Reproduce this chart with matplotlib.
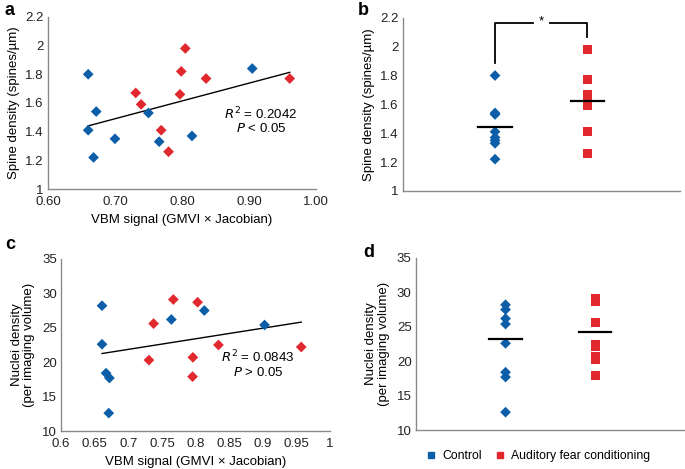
import matplotlib
matplotlib.use("Agg")
import matplotlib.pyplot as plt
import numpy as np

plt.rcParams['font.family'] = ['Liberation Sans', 'DejaVu Sans']

BLUE = '#0d5ea8'
RED = '#e0282e'
FS = 9.5

# panel a: VBM signal vs spine density
a_ctrl_x = [0.66, 0.66, 0.672, 0.668, 0.70, 0.75, 0.766, 0.815, 0.905]
a_ctrl_y = [1.80, 1.41, 1.54, 1.22, 1.35, 1.53, 1.33, 1.37, 1.84]
a_afc_x = [0.805, 0.799, 0.836, 0.961, 0.731, 0.739, 0.797, 0.769, 0.780]
a_afc_y = [1.98, 1.82, 1.77, 1.77, 1.67, 1.59, 1.66, 1.41, 1.26]

# panel b: spine density by group
b_ctrl = [1.80, 1.54, 1.53, 1.41, 1.37, 1.35, 1.33, 1.22]
b_afc = [1.98, 1.77, 1.67, 1.64, 1.59, 1.41, 1.26]
b_means = [1.445, 1.624]

# panel c: VBM signal vs nuclei density
c_ctrl_x = [0.661, 0.661, 0.667, 0.672, 0.671, 0.764, 0.813, 0.9025]
c_ctrl_y = [28.2, 22.6, 18.4, 17.7, 12.6, 26.2, 27.5, 25.4]
c_afc_x = [0.767, 0.803, 0.7376, 0.7307, 0.796, 0.7955, 0.834, 0.957]
c_afc_y = [29.1, 28.7, 25.6, 20.3, 20.7, 17.9, 22.5, 22.2]

# panel d: nuclei density by group
d_means = [23.3, 24.2]

fig = plt.figure(figsize=(6.85, 4.69), dpi=100)


def style(ax):
    for s in ['top', 'right']:
        ax.spines[s].set_visible(False)
    for s in ['left', 'bottom']:
        ax.spines[s].set_color('#8a8a8a')
        ax.spines[s].set_linewidth(1.0)
    ax.tick_params(length=0, labelsize=FS, colors='#222222', pad=3)
    ax.tick_params(axis='x', pad=5)


def scatter_panel(ax, cx, cy, fx, fy):
    ax.scatter(cx, cy, marker='D', s=30, color=BLUE, edgecolors='none', zorder=3)
    ax.scatter(fx, fy, marker='D', s=30, color=RED, edgecolors='none', zorder=3)
    xs = np.array(cx + fx)
    ys = np.array(cy + fy)
    k, b = np.polyfit(xs, ys, 1)
    xl = np.array([xs.min(), xs.max()])
    ax.plot(xl, k * xl + b, color='black', lw=1.0, zorder=2)


# a
ax = fig.add_axes([0.0701, 0.597, 0.391, 0.367])
style(ax)
scatter_panel(ax, a_ctrl_x, a_ctrl_y, a_afc_x, a_afc_y)
ax.set_xlim(0.6, 1.0)
ax.set_ylim(1, 2.2)
ax.set_xticks([0.6, 0.7, 0.8, 0.9, 1.0])
ax.set_xticklabels(['0.60', '0.70', '0.80', '0.90', '1.00'])
ax.set_yticks([1, 1.2, 1.4, 1.6, 1.8, 2, 2.2])
ax.set_yticklabels(['1', '1.2', '1.4', '1.6', '1.8', '2', '2.2'])
ax.set_xlabel('VBM signal (GMVI × Jacobian)', fontsize=FS, labelpad=4)
ax.set_ylabel('Spine density (spines/µm)', fontsize=FS, labelpad=4)
ax.text(0.918, 1.525, '$R^2$ = 0.2042', ha='center', va='center', fontsize=FS)
ax.text(0.918, 1.425, '$P$ < 0.05', ha='center', va='center', fontsize=FS)
fig.text(0.006, 0.977, 'a', fontsize=13, fontweight='bold', va='center')

# b
ax = fig.add_axes([0.588, 0.593, 0.404, 0.369])
style(ax)
ax.scatter([1] * len(b_ctrl), b_ctrl, marker='D', s=30, color=BLUE, edgecolors='none', zorder=3)
ax.scatter([2] * len(b_afc), b_afc, marker='s', s=42, color=RED, edgecolors='none', zorder=3)
for i, m in enumerate(b_means):
    ax.plot([i + 1 - 0.18, i + 1 + 0.18], [m, m], color='black', lw=1.6, zorder=4)
ax.plot([1, 1, 1.41], [1.89, 2.165, 2.165], color='black', lw=1.3, clip_on=False)
ax.plot([1.6, 2, 2], [2.165, 2.165, 2.065], color='black', lw=1.3, clip_on=False)
ax.text(1.5, 2.175, '*', ha='center', va='center', fontsize=FS)
ax.set_xlim(0, 3)
ax.set_ylim(1, 2.2)
ax.set_xticks([])
ax.set_yticks([1, 1.2, 1.4, 1.6, 1.8, 2, 2.2])
ax.set_yticklabels(['1', '1.2', '1.4', '1.6', '1.8', '2', '2.2'])
ax.set_ylabel('Spine density (spines/µm)', fontsize=FS, labelpad=4)
fig.text(0.523, 0.977, 'b', fontsize=13, fontweight='bold', va='center')

# c
ax = fig.add_axes([0.089, 0.081, 0.393, 0.367])
style(ax)
scatter_panel(ax, c_ctrl_x, c_ctrl_y, c_afc_x, c_afc_y)
ax.set_xlim(0.6, 1.0)
ax.set_ylim(10, 35)
ax.set_xticks([0.6, 0.65, 0.7, 0.75, 0.8, 0.85, 0.9, 0.95, 1.0])
ax.set_xticklabels(['0.6', '0.65', '0.7', '0.75', '0.8', '0.85', '0.9', '0.95', '1'])
ax.set_yticks([10, 15, 20, 25, 30, 35])
ax.set_xlabel('VBM signal (GMVI × Jacobian)', fontsize=FS, labelpad=4)
ax.set_ylabel('Nuclei density\n(per imaging volume)', fontsize=FS, labelpad=5, linespacing=1.05)
ax.text(0.893, 20.7, '$R^2$ = 0.0843', ha='center', va='center', fontsize=FS)
ax.text(0.893, 18.5, '$P$ > 0.05', ha='center', va='center', fontsize=FS)
fig.text(0.008, 0.478, 'c', fontsize=13, fontweight='bold', va='center')

# d
ax = fig.add_axes([0.607, 0.083, 0.393, 0.367])
style(ax)
ax.scatter([1] * len(c_ctrl_y), c_ctrl_y, marker='D', s=30, color=BLUE, edgecolors='none', zorder=3)
ax.scatter([2] * len(c_afc_y), c_afc_y, marker='s', s=42, color=RED, edgecolors='none', zorder=3)
for i, m in enumerate(d_means):
    ax.plot([i + 1 - 0.18, i + 1 + 0.18], [m, m], color='black', lw=1.6, zorder=4)
ax.set_xlim(0, 3)
ax.set_ylim(10, 35)
ax.set_xticks([])
ax.set_yticks([10, 15, 20, 25, 30, 35])
ax.set_ylabel('Nuclei density\n(per imaging volume)', fontsize=FS, labelpad=5, linespacing=1.05)
fig.text(0.531, 0.462, 'd', fontsize=13, fontweight='bold', va='center')

h1 = plt.Line2D([], [], marker='s', ls='none', color=BLUE, markersize=5)
h2 = plt.Line2D([], [], marker='s', ls='none', color=RED, markersize=5)
fig.legend([h1, h2], ['Control', 'Auditory fear conditioning'], loc='center',
           bbox_to_anchor=(0.785, 0.028), ncol=2, frameon=False, fontsize=8.8,
           handletextpad=0.4, columnspacing=1.0, handlelength=1.0)

fig.savefig('out.png', dpi=100)
